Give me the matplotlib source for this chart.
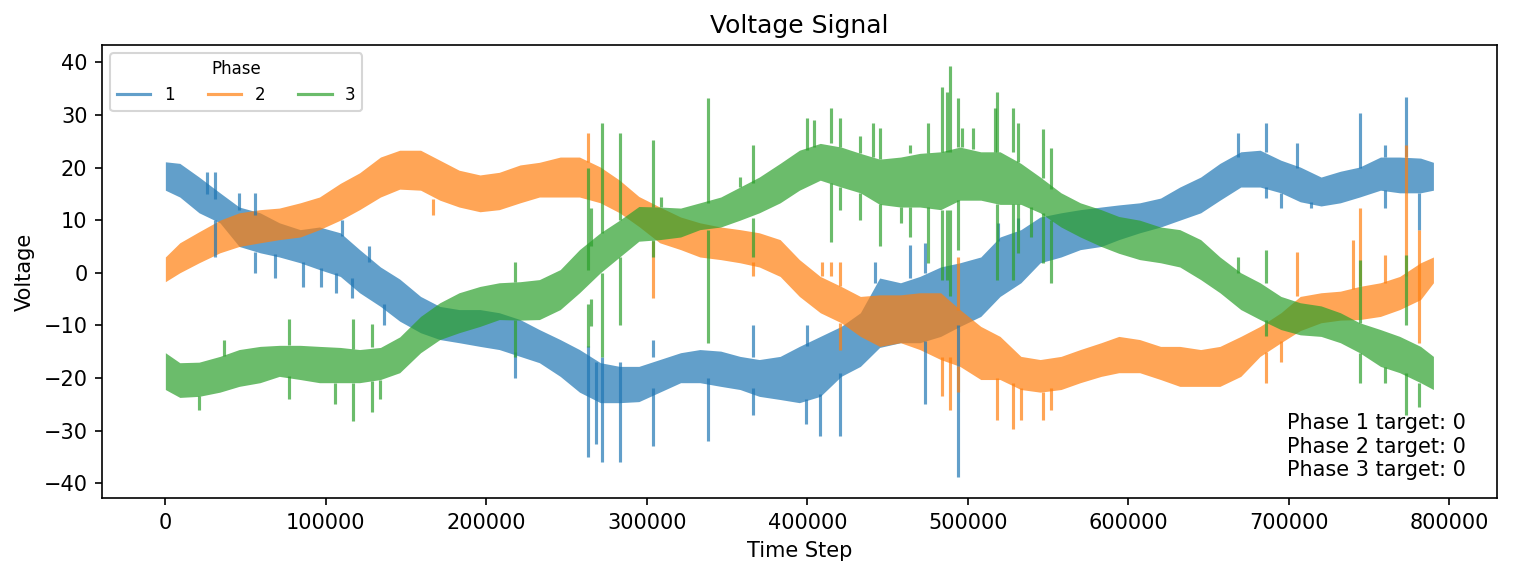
import matplotlib
matplotlib.use("Agg")
import matplotlib.pyplot as plt
from matplotlib.lines import Line2D

steps_k = [0, 9, 21, 34, 46, 59, 71, 84, 96, 109, 121, 134, 146,
           159, 171, 183, 196, 208, 221, 233, 246, 258, 271, 283, 295,
           308, 321, 333, 346, 358, 370, 383, 395, 408, 421, 433, 445,
           458, 470, 483, 495, 508, 520, 533, 545, 558, 570, 583, 594,
           607, 620, 632, 645, 657, 670, 682, 695, 707, 720, 732, 744,
           757, 769, 782, 790]

# phase 1 band (lower / upper edge)
p1_low = [15.7, 14.4, 11.4, 9.5, 5, 3.8, 3, 1.9, 0.6, -0.7, -3.8, -6.4, -9.2,
          -11.4, -12.7, -13.3, -14, -14.6, -15.9, -17.1, -19.7, -22.7, -24.7, -24.7, -24.5,
          -22.7, -20.9, -20.9, -21.6, -22.2, -23.5, -24.1, -24.7, -23.5, -19.7, -17.8, -14.2,
          -13.3, -13.3, -12.1, -10.2, -8.3, -4.5, -1.9, 1.9, 3, 4.4, 5, 6.3,
          7.6, 8.7, 10, 11.4, 13.8, 16.3, 16.3, 15.2, 13.5, 12.7, 13.3, 14.4,
          15.7, 15.2, 15.2, 15.7]
p1_high = [21.1, 20.8, 18.2, 15.2, 12.5, 11.4, 9.5, 8.2, 8.7, 7.6, 4.4, 1.1, -1.2,
           -4.5, -6.4, -7, -7, -7.6, -8.9, -10.8, -12.7, -14.6, -17.1, -17.8, -17.8,
           -16.5, -15.2, -14.6, -14.9, -15.9, -16.5, -15.9, -14, -12.1, -10.2, -7.6, -1,
           -1.9, -0.7, 1.1, 1.9, 3, 6.8, 8.2, 10.6, 11.4, 12, 12.5, 12.9,
           13.3, 14.2, 16.3, 18.2, 20.8, 23, 23.3, 21.4, 20.1, 18.2, 19.3, 20.1,
           22, 22, 21.8, 21]

# phase 2 band
p2_low = [-1.7, 0, 1.9, 3.8, 5, 5.7, 6.3, 6.8, 8.2, 10, 12, 14.4, 15.9,
          15.7, 13.8, 12.5, 11.6, 12, 13.3, 14.4, 14.4, 14.4, 13.3, 11.4, 8.8,
          5.7, 4.4, 3, 2.5, 1.9, 1.1, -0.7, -4.5, -7.6, -9.5, -12.1, -14,
          -13.3, -14.6, -16.5, -17.8, -20.3, -20.3, -22.2, -22.7, -22.2, -20.9, -19.7, -19,
          -19, -20.3, -21.6, -21.6, -21.6, -19.7, -15.9, -13.3, -11, -9.5, -9, -8.9,
          -8.3, -7, -5.1, -1.9]
p2_high = [3, 5.7, 7.8, 10, 11.4, 12, 12.3, 13.3, 14.4, 17, 19, 22, 23.3,
           23.3, 21.4, 19.5, 18.6, 19.1, 20.5, 21, 22, 22, 20.1, 17.6, 14.5,
           12.5, 10.6, 9.5, 8.7, 8.2, 7.6, 6.3, 2.5, -0.7, -2.6, -4.5, -4.2,
           -4.2, -3.8, -3.8, -7, -10.2, -12.1, -15.9, -16.5, -15.9, -14.6, -13.3, -12.1,
           -12.7, -14, -14, -14.6, -14, -12.1, -10.2, -7.6, -4.5, -3.8, -3.5, -2.6,
           -1.9, -0.7, 1.9, 3]

# phase 3 band
p3_low = [-22.2, -23.7, -23.5, -22.7, -21.6, -20.9, -19.7, -20.3, -20.9, -20.9, -20.9, -20.3, -19,
          -15.2, -12.7, -11.4, -10.2, -8.9, -9, -8.9, -7, -3.8, 0, 3, 6,
          6.3, 6.8, 8.2, 8.7, 10, 11.4, 13.3, 15.7, 17.6, 16.3, 15.2, 13,
          12.5, 12.5, 12, 13.8, 13.8, 13, 13, 11.4, 8.7, 6.8, 5, 3.7,
          2.5, 1.9, 1.1, -1.3, -3.8, -7, -8.9, -10.8, -11.8, -12.1, -13.3, -15.2,
          -17.8, -19, -20.9, -22.2]
p3_high = [-15.2, -17.1, -17, -15.9, -14.6, -14, -13.8, -13.8, -14, -14.2, -14.6, -14.2, -12.2,
           -8.3, -5.7, -3.8, -2.6, -1.9, -1.7, -1.3, 0.6, 4.4, 7.6, 10, 12.6,
           12.5, 12.3, 13.3, 14.4, 16.3, 18.2, 20.8, 23.3, 24.6, 23.9, 22.7, 21.6,
           22, 22.7, 23, 23.9, 23, 23, 20.8, 18.2, 15.2, 13.3, 12, 10.7,
           10, 8.7, 8.2, 6.3, 3, 0, -1.9, -4.5, -5.7, -6.3, -7.6, -9.5,
           -10.8, -12.1, -14, -15.9]

# spikes sticking out of the bands: (time step, lower end, upper end)
p1_spikes = [(26000, 15, 19.2), (31000, 14, 19.2), (31000, 3, 10), (46000, 12, 15.2),
             (56000, 11, 15.2), (56000, 0, 4), (68000, -1, 3.5), (86000, -2.8, 2),
             (97000, -2.8, 1), (106000, -3.8, 0), (110000, 7, 10), (116000, -4.8, -1),
             (127000, 2, 5), (136000, -9.9, -6), (218000, -20, -15), (263000, -35, -14),
             (268000, -32.6, -17), (272000, -36, -16), (283000, -36, -17), (304000, -33, -22),
             (304000, -16, -12.7), (338000, -32, -20), (366000, -27, -22), (366000, -16, -9.9),
             (399000, -28.8, -24), (400000, -14, -9.9), (408000, -31, -23), (420000, -31, -19),
             (442000, -2, 2), (464000, -1, 5.3), (473000, -25, -13), (473000, 0, 5.7),
             (494000, -38.9, -10), (519000, 6, 9.5), (531000, 8, 10.5), (668000, 22, 26.5),
             (686000, 23, 28.4), (686000, 14.2, 16.3), (695000, 12.3, 15.2), (705000, 20, 24.6),
             (714000, 12.3, 13.5), (744000, 20, 30.3), (760000, 22, 24.3), (760000, 12.3, 15.7),
             (773000, 22, 33.4), (781000, 8.2, 15.2)]

p2_spikes = [(167000, 11, 14), (263000, 21, 26.5), (304000, -4.8, 6), (366000, -0.7, 2),
             (409000, -0.7, 2), (415000, -0.7, 2), (420000, -14.6, -9.5), (420000, -2.6, 2),
             (484000, -23.5, -16), (489000, -26, -16), (494000, -22.7, -17.8), (494000, -7, 3),
             (518000, -27.9, -20), (528000, -29.8, -21), (533000, -27.9, -22), (547000, -27.9, -22.7),
             (552000, -26, -22), (686000, -20.9, -15), (695000, -16.9, -13), (705000, -4.5, 4),
             (740000, -3, 6.3), (744000, -2.6, 12.3), (760000, -1.9, 3.4), (773000, -0.7, 24.3),
             (781000, -13.3, 8.2)]

p3_spikes = [(21000, -26, -23.5), (36500, -15.9, -12.7), (77000, -24, -19.7), (77000, -13.8, -8.7),
             (105600, -25, -20.9), (117000, -28.2, -20.9), (117000, -14.5, -8.7),
             (129000, -26.4, -20.5), (129000, -14.2, -9.7), (134000, -24, -20.3),
             (218000, -1.7, 2), (218000, -16, -9), (263000, 0.5, 20), (263000, -14.2, -6),
             (265000, 5, 12.3), (265000, -10.2, -5), (272000, 7.6, 28.4), (272000, -16, 0),
             (283000, 10, 26.5), (283000, -10, 3), (304000, 12.5, 25.2), (304000, 3, 6.3),
             (309000, 12.5, 14.4), (338000, 13.3, 33.2), (338000, -13.3, 8.2), (358000, 16.3, 18.2),
             (366000, 17, 24.3), (366000, 3, 10.5), (400000, 23.3, 29.4), (404000, 24, 29),
             (415000, 24.6, 31.3), (415000, 5.9, 17), (420000, 23.9, 29.4), (420000, 12, 16.3),
             (433000, 22.7, 26), (433000, 10, 15.2), (441000, 22, 28.4), (445000, 21.6, 27.5),
             (445000, 5, 13), (458000, 9.5, 12.5), (464000, 22.7, 24.3), (464000, 6.8, 12.5),
             (475000, 22.7, 28.4), (475000, 1.9, 12.5), (484000, 23, 35.3), (484000, -1.3, 12),
             (487000, 23, 34.3), (487000, -1.3, 12), (489000, 23, 39.4), (489000, -4.5, 12),
             (494000, 23.9, 33.2), (494000, 4.4, 13.8), (496000, 23.9, 27.5), (503000, 23.5, 27.5),
             (517000, 23, 31.3), (518000, 23, 34.3), (518000, -1.3, 13), (528000, 23, 31.3),
             (528000, -1.3, 13), (531000, 21, 28.4), (531000, 3.8, 13), (539000, 6.8, 12.5),
             (547000, 18, 27.3), (547000, 1.9, 11.4), (552000, 16, 23.7), (552000, -1.9, 10),
             (668000, 0, 3), (686000, -1.9, 4.4), (686000, -12.1, -9), (744000, -9.5, 2.5),
             (744000, -20.9, -15.2), (760000, -20.9, -18), (773000, -10, 3.4), (773000, -27, -19),
             (781000, -25.6, -20.9)]

phase_labels = ["1", "2", "3"]
targets = [0, 0, 0]
colors = ["C0", "C1", "C2"]

steps = [s * 1000 for s in steps_k]
bands = [(p1_low, p1_high, p1_spikes), (p2_low, p2_high, p2_spikes), (p3_low, p3_high, p3_spikes)]

fig, ax = plt.subplots(figsize=(10.1, 3.847), dpi=150)
fig.subplots_adjust(left=0.0673, right=0.988, top=0.922, bottom=0.137)

for (low, high, spikes), col in zip(bands, colors):
    ax.fill_between(steps, low, high, color=col, alpha=0.7, linewidth=0)
    sx = [s[0] for s in spikes]
    slo = [s[1] for s in spikes]
    shi = [s[2] for s in spikes]
    ax.vlines(sx, slo, shi, color=col, alpha=0.7, linewidth=1.5)

handles = [Line2D([], [], color=c, alpha=0.7, linewidth=1.5) for c in colors]
ax.legend(handles, phase_labels, title="Phase", ncol=3, loc="upper left",
          fontsize=8, title_fontsize=8)

txt = "\n".join(f"Phase {i + 1} target: {t}" for i, t in enumerate(targets))
ax.text(0.978, 0.04, txt, transform=ax.transAxes, ha="right", va="bottom",
        fontsize=10, multialignment="left")

ax.set_title("Voltage Signal")
ax.set_xlabel("Time Step")
ax.set_ylabel("Voltage")
ax.ticklabel_format(style="plain", axis="x")

fig.savefig("out.png", dpi=150)
